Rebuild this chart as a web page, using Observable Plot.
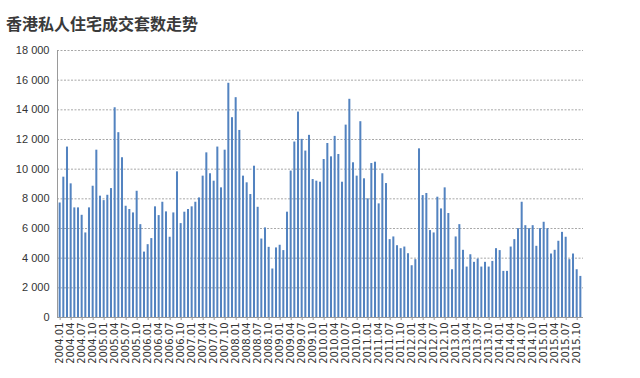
<!DOCTYPE html>
<html>
<head>
<meta charset="utf-8">
<script src="https://cdn.jsdelivr.net/npm/d3@7"></script>
<script src="https://cdn.jsdelivr.net/npm/@observablehq/plot@0.6"></script>
<style>
  html, body { margin: 0; padding: 0; background: #fff; }
  #title { height: 38px; box-sizing: border-box; padding: 13px 0 0 6px; font: bold 16px/20px "Noto Sans CJK SC", sans-serif; color: #3a3a3a; }
</style>
</head>
<body>
<div id="title">香港私人住宅成交套数走势</div>
<div id="chart"></div>
<script>
const startYear = 2004;
const endYear = 2015;
const lastMonth = 11;
const months = [];
for (let y = startYear; y <= endYear; y++) {
  for (let m = 1; m <= 12; m++) {
    if (y === endYear && m > lastMonth) break;
    months.push(`${y}.${String(m).padStart(2, "0")}`);
  }
}
const values = [
  7720, 9460, 11490, 9010, 7390, 7390, 6890, 5700, 7390, 8850, 11280, 8180,
  7880, 8240, 8690, 14140, 12460, 10770, 7500, 7280, 7050, 8510, 6260, 4410,
  4910, 5320, 7460, 6870, 7770, 7120, 5410, 7050, 9820, 6330, 7100, 7280,
  7460, 7770, 8060, 9530, 11100, 9690, 9190, 11490, 8740, 11280, 15790, 13470,
  14820, 12610, 9530, 9080, 8290, 10200, 7430, 5290, 6040, 4730, 3270, 4690,
  4870, 4510, 7100, 9870, 11830, 13850, 12010, 11220, 12280, 9300, 9190, 9120,
  10650, 11730, 10830, 12210, 10990, 9120, 12970, 14710, 10430, 9530, 13200, 9350,
  8000, 10380, 10470, 7660, 9690, 9030, 5250, 5430, 4840, 4640, 4750, 4300,
  3490, 3900, 11370, 8220, 8360, 5860, 5700, 8110, 7320, 8740, 7010, 3220,
  5430, 6260, 4530, 3400, 4230, 3720, 3940, 3400, 3720, 3400, 3780, 4640,
  4510, 3110, 3110, 4750, 5250, 5990, 7770, 6190, 5990, 6190, 4800, 5990,
  6420, 5990, 4280, 4530, 5140, 5740, 5410, 3900, 4280, 3220, 2770
];
const yTicks = [0, 2000, 4000, 6000, 8000, 10000, 12000, 14000, 16000, 18000];
const xTickLabels = months.filter((d, i) => i % 3 === 0);

const data = months.map((m, i) => ({month: m, value: values[i]}));
const fmt = d => d3.format(",")(d).replace(/,/g, " ");

const chart = Plot.plot({
  width: 640,
  height: 340,
  marginLeft: 57,
  marginRight: 57,
  marginTop: 12,
  marginBottom: 61,
  style: {background: "transparent"},
  x: {type: "band", domain: months, padding: 0.45, label: null},
  y: {domain: [0, 18000], label: null},
  marks: [
    Plot.ruleY(yTicks.filter(d => d > 0), {stroke: "#a8a8a8", strokeDasharray: "2,1.5", strokeWidth: 1}),
    Plot.barY(data, {x: "month", y: "value", fill: "#5383c0"}),
    Plot.ruleY([0], {stroke: "#9a9a9a"}),
    Plot.axisY({ticks: yTicks, tickFormat: fmt, tickSize: 0, tickPadding: 8, fontSize: 11, fill: "#333", fontFamily: "Liberation Sans, Arial, sans-serif"}),
    Plot.axisX({ticks: xTickLabels, tickRotate: -90, tickSize: 3, tickPadding: 2, fontSize: 10, fill: "#333", stroke: "#9a9a9a", fontFamily: "DejaVu Sans, sans-serif", label: null}),
    Plot.frame({anchor: "left", stroke: "#9a9a9a"})
  ]
});
document.getElementById("chart").appendChild(chart);
</script>
</body>
</html>
